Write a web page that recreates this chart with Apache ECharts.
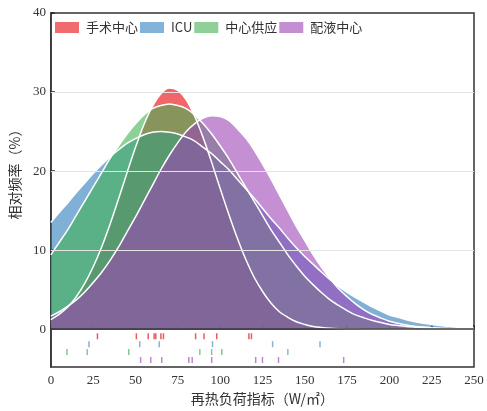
<!DOCTYPE html>
<html>
<head>
<meta charset="utf-8">
<script src="https://cdn.jsdelivr.net/npm/echarts@6/dist/echarts.min.js"></script>
<style>
  html, body { margin: 0; padding: 0; background: #fff; }
  #chart { width: 487px; height: 411px; }
</style>
</head>
<body>
<div id="chart"></div>
<script>
// Distribution curves of the reheat load index per department (x in W/m², y in %)
const xValues = [0, 5, 10, 15, 20, 25, 30, 35, 40, 45, 50, 55, 60, 65, 70, 75, 80, 85, 90, 95, 100,
  105, 110, 115, 120, 125, 130, 135, 140, 145, 150, 155, 160, 165, 170, 175, 180, 185, 190, 195, 200,
  205, 210, 215, 220, 225, 230, 235, 240, 245, 250];

const surgeryCurve = [1.2, 1.9, 2.8, 4.1, 5.8, 7.9, 10.4, 13.3, 16.5, 19.8, 23.0, 25.9, 28.2, 29.8, 30.5,
  30.2, 29.0, 26.9, 24.2, 21.1, 17.8, 14.6, 11.6, 8.9, 6.6, 4.8, 3.3, 2.2, 1.5, 0.93, 0.6, 0.34, 0.2, 0.11,
  0.06, 0.03, 0.02, 0, 0, 0, 0, 0, 0, 0, 0, 0, 0, 0, 0, 0, 0];
const icuCurve = [13.5, 14.8, 16.0, 17.3, 18.5, 19.7, 20.8, 21.8, 22.7, 23.5, 24.1, 24.6, 24.9, 25.0, 24.9,
  24.7, 24.3, 23.8, 23.0, 22.2, 21.2, 20.2, 19.0, 17.8, 16.6, 15.3, 14.0, 12.8, 11.5, 10.3, 9.2, 8.2, 7.2,
  6.25, 5.4, 4.65, 4.0, 3.4, 2.8, 2.3, 1.8, 1.5, 1.2, 0.95, 0.75, 0.6, 0.45, 0.35, 0.25, 0.18, 0.12];
const supplyCurve = [9.4, 11.0, 12.6, 14.4, 16.2, 18.0, 19.8, 21.6, 23.2, 24.7, 26.0, 27.1, 27.9, 28.3, 28.5,
  28.3, 27.9, 27.1, 26.0, 24.7, 23.2, 21.6, 19.8, 18.0, 16.2, 14.4, 12.6, 11.0, 9.4, 8.0, 6.7, 5.6, 4.6,
  3.7, 3.0, 2.35, 1.8, 1.43, 1.1, 0.83, 0.6, 0.46, 0.34, 0.25, 0.17, 0.13, 0.09, 0.06, 0.04, 0.03, 0.02];
const dispensingCurve = [1.65, 2.2, 2.9, 3.7, 4.7, 5.9, 7.2, 8.7, 10.4, 12.3, 14.2, 16.2, 18.2, 20.2, 22.0,
  23.6, 25.0, 26.0, 26.7, 27.0, 26.9, 26.4, 25.4, 24.2, 22.7, 20.9, 19.0, 17.0, 15.0, 13.0, 11.2, 9.4, 7.8,
  6.4, 5.1, 4.1, 3.2, 2.45, 1.85, 1.4, 1.0, 0.74, 0.53, 0.37, 0.26, 0.18, 0.12, 0.08, 0.05, 0.03, 0.02];

// Individual observations shown as rug marks below the baseline
const surgeryObs = [27.5, 50.5, 57.5, 61, 62, 65, 66.5, 85.5, 90.5, 98, 117, 118.5];
const icuObs = [22.5, 52.5, 64, 95.5, 131, 159];
const supplyObs = [9.5, 21.5, 46, 88, 95, 101, 140];
const dispensingObs = [53, 59, 65.5, 81.5, 83.5, 95, 121, 125, 134.5, 173];

const groupNames = ['手术中心', 'ICU', '中心供应', '配液中心'];
const yTickValues = [0, 10, 20, 30, 40];
const xTickInterval = 25;

const swatch = ['#f06a6e', '#84b3da', '#8ed098', '#c38fd2'];
const fills = ['rgba(230,0,8,0.6)', 'rgba(43,123,187,0.6)', 'rgba(65,178,82,0.6)', 'rgba(157,70,182,0.6)'];
const rugColors = ['#e2323a', '#6a9ccb', '#66b974', '#b067c8'];
const rugLevels = [-0.9, -1.9, -2.9, -3.9];

const serifFont = 'Liberation Serif, Times New Roman, DejaVu Serif, serif';
const cjkFont = 'Noto Sans CJK SC, sans-serif';

function pairs(ys) { return xValues.map((x, i) => [x, ys[i]]); }

const curves = [surgeryCurve, icuCurve, supplyCurve, dispensingCurve];
const obs = [surgeryObs, icuObs, supplyObs, dispensingObs];

const series = [];

// light reference lines behind the curves
series.push({
  type: 'line', data: [], z: 1, silent: true,
  markLine: {
    silent: true, symbol: 'none', label: { show: false },
    lineStyle: { color: '#e4e4e4', width: 1, type: 'solid' },
    data: [{ yAxis: 10 }, { yAxis: 20 }, { yAxis: 30 }]
  }
});

curves.forEach((c, i) => {
  series.push({
    name: groupNames[i],
    type: 'line',
    data: pairs(c),
    smooth: 0.3,
    showSymbol: false,
    z: 2,
    itemStyle: { color: swatch[i] },
    lineStyle: { color: '#ffffff', width: 1.5 },
    areaStyle: { color: fills[i], opacity: 1 }
  });
});

// baseline at zero
series.push({
  type: 'line', data: [], z: 5, silent: true,
  markLine: {
    silent: true, symbol: 'none', label: { show: false },
    lineStyle: { color: '#3a3a3a', width: 1.5, type: 'solid' },
    data: [{ yAxis: 0 }]
  }
});

obs.forEach((o, i) => {
  series.push({
    type: 'scatter',
    data: o.map(v => [v, rugLevels[i]]),
    symbol: 'rect',
    symbolSize: [1.5, 6],
    itemStyle: { color: rugColors[i] },
    silent: true,
    z: 4
  });
});

const chart = echarts.init(document.getElementById('chart'), null, { renderer: 'canvas' });
chart.setOption({
  animation: false,
  backgroundColor: '#ffffff',
  textStyle: { fontFamily: serifFont },
  grid: {
    left: 48, right: 13, top: 13, bottom: 43,
    show: true, borderColor: '#333', borderWidth: 1.5, backgroundColor: 'transparent'
  },
  legend: {
    left: 50, top: 16,
    itemWidth: 24, itemHeight: 11, itemGap: 2,
    icon: 'rect',
    textStyle: { fontFamily: cjkFont, fontSize: 13, color: '#333', padding: [0, 0, 0, 2] },
    data: groupNames.map((n, i) => ({ name: n, itemStyle: { color: swatch[i], borderWidth: 0 } }))
  },
  xAxis: {
    type: 'value', min: 0, max: 250, interval: xTickInterval,
    name: '再热负荷指标（W/㎡）', nameLocation: 'middle', nameGap: 24,
    nameTextStyle: { fontFamily: cjkFont, fontSize: 14, color: '#333' },
    axisLine: { show: true, lineStyle: { color: '#333', width: 1.5 } },
    axisTick: { show: true, inside: true, length: 4, lineStyle: { color: '#222', width: 1.5 } },
    axisLabel: { fontFamily: serifFont, fontSize: 13, color: '#333', margin: 7 },
    splitLine: { show: false }
  },
  yAxis: {
    type: 'value', min: -4.8, max: 40,
    name: '相对频率（%）', nameLocation: 'middle', nameGap: 26,
    nameTextStyle: { fontFamily: cjkFont, fontSize: 14, color: '#333', padding: [0, 0, 0, 38] },
    axisLine: { show: true, lineStyle: { color: '#333', width: 1.5 } },
    axisTick: { show: true, inside: true, length: 4, customValues: yTickValues, lineStyle: { color: '#222', width: 1.5 } },
    axisLabel: { fontFamily: serifFont, fontSize: 13, color: '#333', margin: 5, customValues: yTickValues },
    splitLine: { show: false }
  },
  series: series
});
</script>
</body>
</html>
